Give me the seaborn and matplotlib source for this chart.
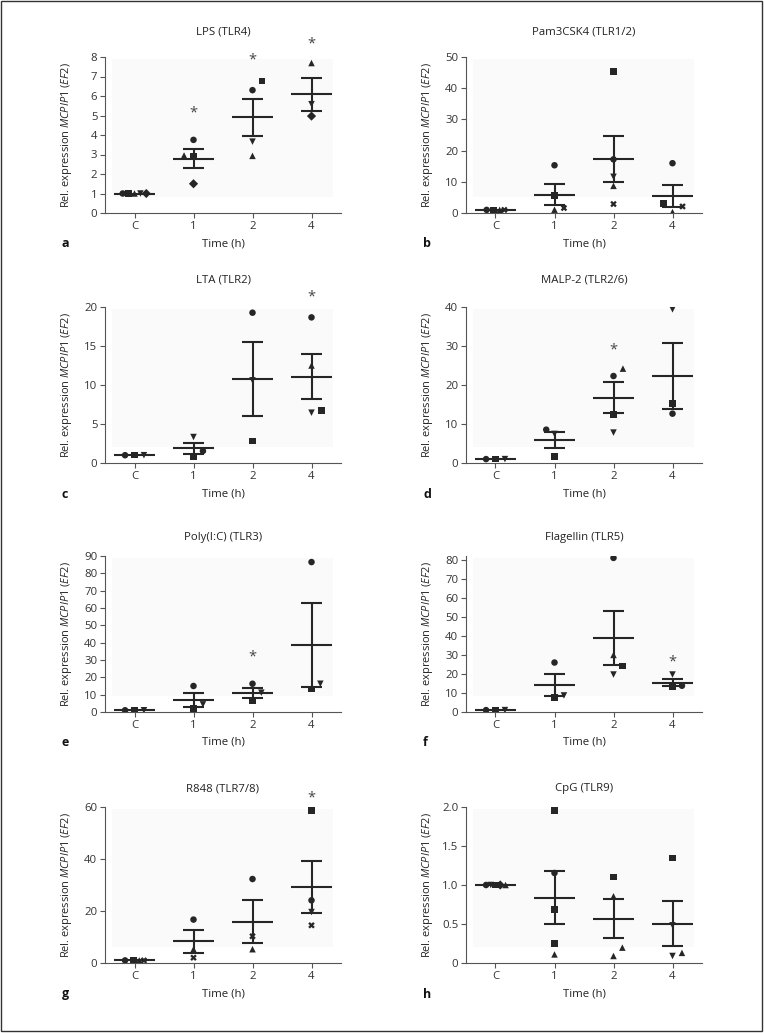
import matplotlib
matplotlib.use('Agg')
from matplotlib import pyplot as plt
from matplotlib.patches import Rectangle
import numpy as np
import pandas as pd
import seaborn as sns

# time points on the x axis
TIMES = ['C', '1', '2', '4']

# a: LPS (TLR4)
lps_time = ['C'] * 5 + ['1'] * 4 + ['2'] * 4 + ['4'] * 3
lps_value = [1, 1, 1, 1, 1, 3.75, 2.95, 2.9, 1.5, 6.3, 6.76, 3.66, 2.93, 7.69, 5.58, 4.97]
lps_donor = ['circle', 'square', 'up', 'down', 'diamond', 'circle', 'up', 'square', 'diamond',
             'circle', 'square', 'down', 'up', 'up', 'down', 'diamond']
lps_mean = [1.0, 2.79, 4.92, 6.08]
lps_sem = [0.0, 0.47, 0.95, 0.85]
lps_star = [None, 5.15, 7.83, 8.68]

# b: Pam3CSK4 (TLR1/2)
pam_time = ['C'] * 4 + ['1'] * 4 + ['2'] * 5 + ['4'] * 4
pam_value = [1, 1, 1, 1, 15.3, 5.6, 1.06, 1.6, 45.3, 17.2, 11.6, 8.7, 2.87, 15.96, 2.98, 0.3, 2.1]
pam_donor = ['circle', 'square', 'up', 'cross', 'circle', 'square', 'up', 'cross',
             'square', 'circle', 'down', 'up', 'cross', 'circle', 'square', 'up', 'cross']
pam_mean = [1.0, 5.9, 17.2, 5.4]
pam_sem = [0.0, 3.3, 7.4, 3.55]
pam_star = [None, None, None, None]

# c: LTA (TLR2)
lta_time = ['C'] * 3 + ['1'] * 3 + ['2'] * 3 + ['4'] * 4
lta_value = [1, 1, 1, 3.33, 0.77, 1.54, 19.27, 10.6, 2.82, 18.67, 12.5, 6.45, 6.7]
lta_donor = ['circle', 'square', 'down', 'down', 'square', 'circle', 'circle', 'down', 'square',
             'circle', 'up', 'down', 'square']
lta_mean = [1.0, 1.86, 10.8, 11.07]
lta_sem = [0.0, 0.75, 4.74, 2.9]
lta_star = [None, None, None, 21.3]

# d: MALP-2 (TLR2/6)
malp_time = ['C'] * 3 + ['1'] * 3 + ['2'] * 4 + ['4'] * 3
malp_value = [1, 1, 1, 8.55, 7.45, 1.7, 24.2, 22.3, 12.5, 7.8, 39.4, 15.2, 12.65]
malp_donor = ['circle', 'square', 'down', 'circle', 'down', 'square', 'up', 'circle', 'square',
              'down', 'down', 'square', 'circle']
malp_mean = [1.0, 5.9, 16.7, 22.4]
malp_sem = [0.0, 2.12, 3.98, 8.43]
malp_star = [None, None, 29.1, None]

# e: Poly(I:C) (TLR3)
poly_time = ['C'] * 3 + ['1'] * 3 + ['2'] * 3 + ['4'] * 3
poly_value = [1, 1, 1, 15.0, 1.9, 4.4, 16.3, 6.5, 11.15, 86.5, 13.3, 16.3]
poly_donor = ['circle', 'square', 'down'] * 4
poly_mean = [1.0, 6.95, 11.15, 38.6]
poly_sem = [0.0, 4.2, 2.85, 24.25]
poly_star = [None, None, 31.7, None]

# f: Flagellin (TLR5)
flag_time = ['C'] * 3 + ['1'] * 3 + ['2'] * 4 + ['4'] * 3
flag_value = [1, 1, 1, 26.0, 7.5, 8.7, 81.0, 30.0, 24.1, 19.7, 19.7, 13.1, 13.8]
flag_donor = ['circle', 'square', 'down', 'circle', 'square', 'down', 'circle', 'up', 'square',
              'down', 'down', 'square', 'circle']
flag_mean = [1.0, 14.1, 38.95, 15.3]
flag_sem = [0.0, 5.9, 14.2, 1.85]
flag_star = [None, None, None, 26.2]

# g: R848 (TLR7/8)
r848_time = ['C'] * 4 + ['1'] * 3 + ['2'] * 3 + ['4'] * 4
r848_value = [1, 1, 1, 1, 16.7, 5.3, 2.05, 32.3, 10.3, 5.3, 58.6, 24.1, 19.6, 14.5]
r848_donor = ['circle', 'square', 'up', 'cross', 'circle', 'up', 'cross', 'circle', 'cross', 'up',
              'square', 'circle', 'down', 'cross']
r848_mean = [1.0, 8.3, 15.9, 29.1]
r848_sem = [0.0, 4.3, 8.2, 10.0]
r848_star = [None, None, None, 63.6]

# h: CpG (TLR9)
cpg_time = ['C'] * 5 + ['1'] * 5 + ['2'] * 4 + ['4'] * 4
cpg_value = [1, 1, 1, 1, 1, 1.957, 1.154, 0.684, 0.25, 0.11, 1.10, 0.855, 0.197, 0.09,
             1.346, 0.483, 0.09, 0.13]
cpg_donor = ['circle', 'down', 'square', 'diamond', 'up', 'square', 'circle', 'square', 'square', 'up',
             'square', 'up', 'up', 'up', 'square', 'down', 'down', 'up']
cpg_mean = [1.0, 0.838, 0.568, 0.505]
cpg_sem = [0.0, 0.338, 0.247, 0.29]
cpg_star = [None, None, None, None]

TITLES = ['LPS (TLR4)', 'Pam3CSK4 (TLR1/2)', 'LTA (TLR2)', 'MALP-2 (TLR2/6)',
          'Poly(I:C) (TLR3)', 'Flagellin (TLR5)', 'R848 (TLR7/8)', 'CpG (TLR9)']
LETTERS = ['a', 'b', 'c', 'd', 'e', 'f', 'g', 'h']
YTICKS = [list(range(0, 9)), list(range(0, 51, 10)), [0, 5, 10, 15, 20], list(range(0, 41, 10)),
          list(range(0, 91, 10)), list(range(0, 81, 10)), [0, 20, 40, 60], [0, 0.5, 1.0, 1.5, 2.0]]
YTICKLABELS_H = ['0', '0.5', '1.0', '1.5', '2.0']

# horizontal spread of overlapping points (layout only)
DX = [
    [-0.2, -0.1, 0, 0.1, 0.2, 0, -0.16, 0, 0, 0, 0.16, 0, 0, 0, 0, 0],
    [-0.15, -0.03, 0.07, 0.15, 0, 0, 0, 0.16, 0, 0, 0, 0, 0, 0, -0.15, 0, 0.17],
    [-0.16, 0, 0.16, 0, 0, 0.16, 0, 0, 0, 0, 0, 0, 0.17],
    [-0.16, 0, 0.16, -0.14, 0, 0, 0.16, 0, 0, 0, 0, 0, 0],
    [-0.16, 0, 0.16, 0, 0, 0.16, 0, 0, 0.15, 0, 0, 0.15],
    [-0.16, 0, 0.16, 0, 0, 0.16, 0, 0, 0.15, 0, 0, 0, 0.16],
    [-0.16, -0.02, 0.08, 0.16, 0, 0, 0, 0, 0, 0, 0, 0, 0, 0],
    [-0.16, -0.08, 0, 0.08, 0.17, 0, 0, 0, 0, 0, 0, 0, 0.15, 0, 0, 0, 0, 0.16],
]
YTOP = [8, 50, 20, 40, 90, 82, 60, 2.0]

panels = [
    (lps_time, lps_value, lps_donor, lps_mean, lps_sem, lps_star),
    (pam_time, pam_value, pam_donor, pam_mean, pam_sem, pam_star),
    (lta_time, lta_value, lta_donor, lta_mean, lta_sem, lta_star),
    (malp_time, malp_value, malp_donor, malp_mean, malp_sem, malp_star),
    (poly_time, poly_value, poly_donor, poly_mean, poly_sem, poly_star),
    (flag_time, flag_value, flag_donor, flag_mean, flag_sem, flag_star),
    (r848_time, r848_value, r848_donor, r848_mean, r848_sem, r848_star),
    (cpg_time, cpg_value, cpg_donor, cpg_mean, cpg_sem, cpg_star),
]

MARKERS = {'circle': 'o', 'square': 's', 'up': '^', 'down': 'v', 'diamond': 'D', 'cross': 'X'}
INK = '#262626'
FS = 8.2

sns.set_style('ticks')
plt.rcParams['font.family'] = ['Open Sans', 'DejaVu Sans']
plt.rcParams['mathtext.fontset'] = 'custom'
plt.rcParams['mathtext.rm'] = 'Open Sans'
plt.rcParams['mathtext.it'] = 'Open Sans:italic'
plt.rcParams['axes.edgecolor'] = '#555555'
plt.rcParams['xtick.color'] = '#555555'
plt.rcParams['ytick.color'] = '#555555'
plt.rcParams['xtick.labelcolor'] = '#333333'
plt.rcParams['ytick.labelcolor'] = '#333333'

W, H = 764, 1033
fig = plt.figure(figsize=(W / 100, H / 100), dpi=100)
col_x = [105, 466]
row_bottom = [213, 463, 712, 963]
title_pad = [16, 18, 11.5, 11.5]
letter_x = [62, 423]

for k, (times, values, donors, means, sems, stars) in enumerate(panels):
    r, c = divmod(k, 2)
    ax = fig.add_axes([col_x[c] / W, 1 - row_bottom[r] / H, 236 / W, 156 / H])
    ax.add_patch(Rectangle((0.028, 0.1), 0.94, 0.89, transform=ax.transAxes,
                           color='#fafafa', lw=0, zorder=0))

    df = pd.DataFrame({'time': times, 'value': values, 'donor': donors})
    df['x'] = df['time'].map({t: i for i, t in enumerate(TIMES)}) + np.array(DX[k])

    # mean +/- SEM
    for i, (m, s) in enumerate(zip(means, sems)):
        ax.hlines(m, i - 0.35, i + 0.35, color=INK, lw=1.5, zorder=2)
        if s > 0:
            ax.vlines(i, m - s, m + s, color=INK, lw=1.5, zorder=2)
            ax.hlines([m - s, m + s], i - 0.18, i + 0.18, color=INK, lw=1.5, zorder=2)
        if stars[i] is not None:
            ax.text(i, stars[i], '*', ha='center', va='center', fontsize=10.5,
                    color='#444444', clip_on=False)

    sns.scatterplot(data=df, x='x', y='value', style='donor', markers=MARKERS,
                    color=INK, s=22, linewidth=0, legend=False, ax=ax, zorder=3)

    ax.set_xlim(-0.5, 3.5)
    ax.set_ylim(0, YTOP[k])
    ax.set_xticks(range(len(TIMES)))
    ax.set_xticklabels(TIMES)
    ax.set_yticks(YTICKS[k])
    if k == 7:
        ax.set_yticklabels(YTICKLABELS_H)
    ax.tick_params(labelsize=FS, length=3.5, width=0.8, pad=2)
    sns.despine(ax=ax)
    for sp in ax.spines.values():
        sp.set_linewidth(0.8)

    ax.set_title(TITLES[k], fontsize=FS, pad=title_pad[r], color='#222222')
    ax.set_xlabel('Time (h)', fontsize=FS, color='#222222')
    ax.xaxis.set_label_coords(0.5, -25 / 156)
    ax.set_ylabel(r'Rel. expression $\mathit{MCPIP1}$ ($\mathit{EF2}$)', fontsize=7.9,
                  color='#222222')
    ax.yaxis.set_label_coords(-31 / 236, 0.5)
    fig.text(letter_x[c] / W, 1 - (row_bottom[r] + 31) / H, LETTERS[k],
             fontsize=9, fontweight='bold', va='center', color='#111111')

fig.add_artist(Rectangle((1 / W, 2 / H), 761 / W, 1030 / H, transform=fig.transFigure,
                         fill=False, lw=1, ec='#333333'))

fig.savefig('out.png', dpi=100)
